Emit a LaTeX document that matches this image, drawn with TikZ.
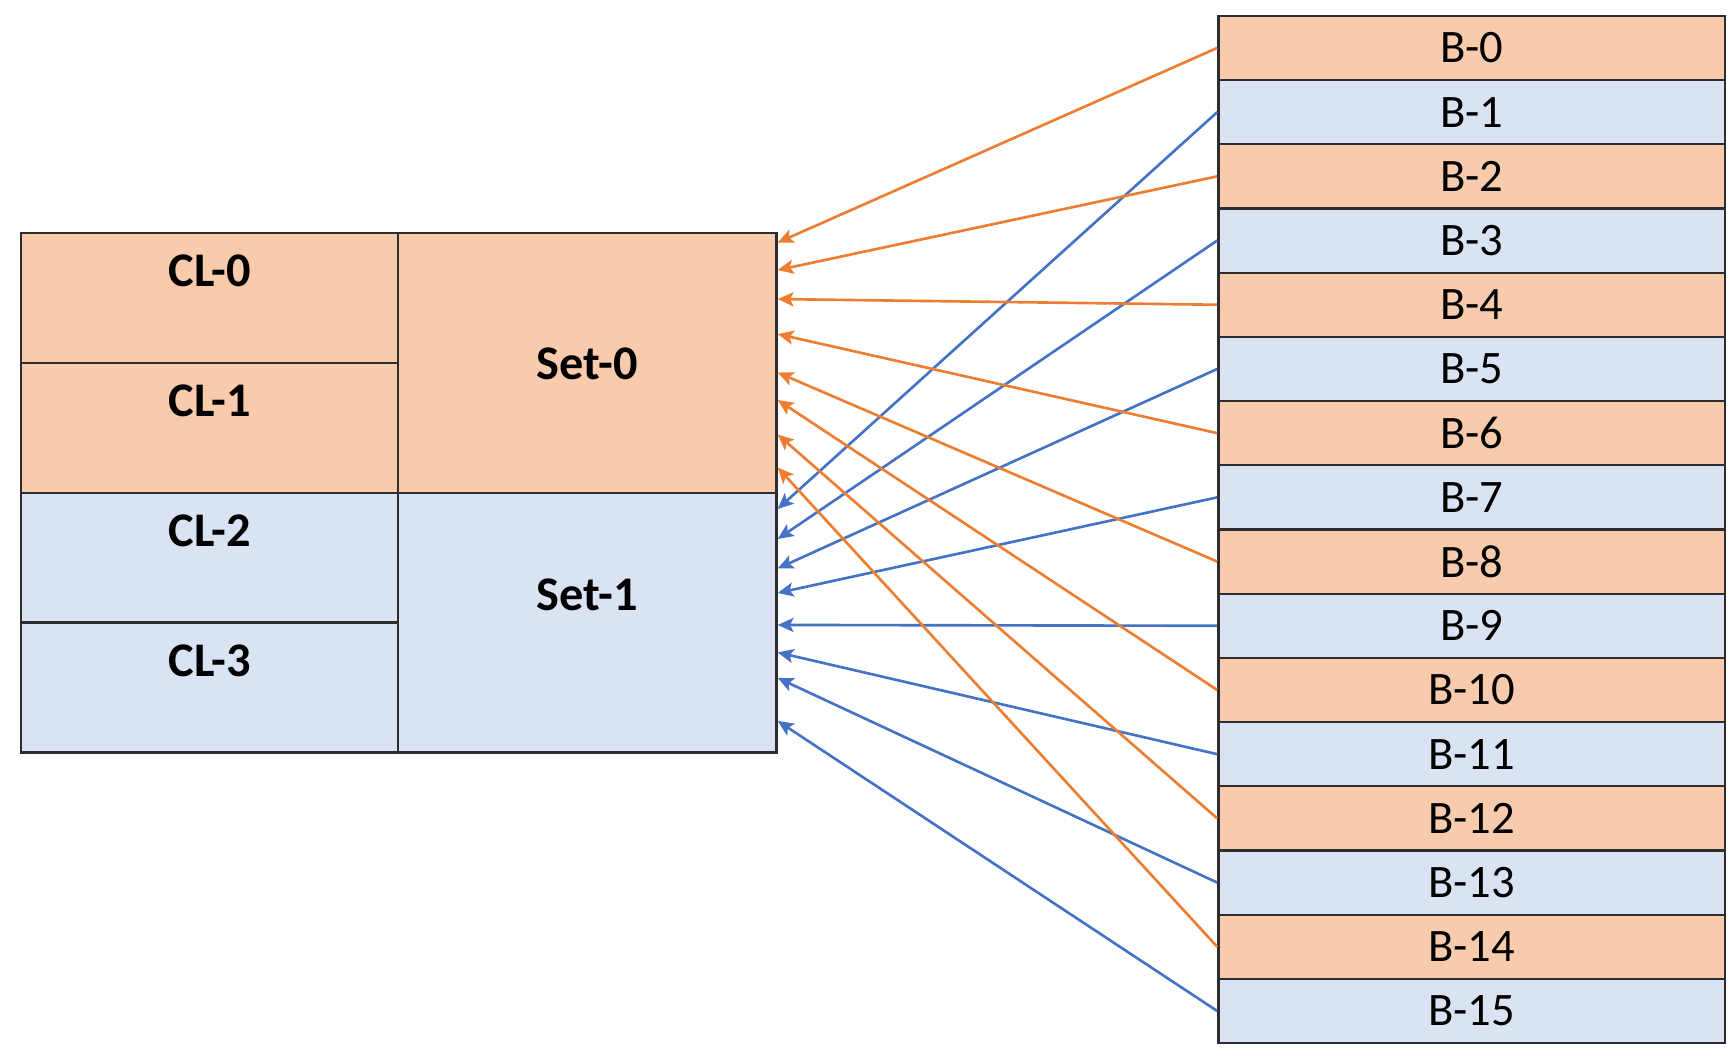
\documentclass[tikz,border=0pt]{standalone}
\usepackage{fontspec}
\setmainfont{Carlito}
\usepackage{tikz}
\usetikzlibrary{arrows.meta}
\definecolor{lightorange}{RGB}{248, 203, 173}
\definecolor{lightblue}{RGB}{218, 227, 243}
\definecolor{darkorange}{RGB}{237, 125, 49}
\definecolor{darkblue}{RGB}{68, 114, 196}
\definecolor{edge}{RGB}{45, 45, 45}

\begin{document}
\begin{tikzpicture}[scale=1.0,
  cell/.style={draw=edge, line width=1.3pt, inner sep=0pt},
  linelabel/.style={font=\fontsize{27.5}{32}\selectfont\bfseries},
  blocklabel/.style={font=\fontsize{26.5}{31}\selectfont},
  orangeline/.style={->, >={Stealth[length=9pt, width=8pt, inset=2pt]}, darkorange, line width=1.5pt},
  blueline/.style={->, >={Stealth[length=9pt, width=8pt, inset=2pt]}, darkblue, line width=1.5pt}]

  \draw[white] (0, 0) rectangle (34.58, 21.1);

  % cache lines
  \node[cell, fill=lightorange, minimum width=7.54cm, minimum height=2.6cm] (cl0) at (4.19, 15.15) {};
  \node[cell, fill=lightorange, minimum width=7.54cm, minimum height=2.6cm] (cl1) at (4.19, 12.55) {};
  \node[cell, fill=lightblue, minimum width=7.54cm, minimum height=2.6cm] (cl2) at (4.19, 9.95) {};
  \node[cell, fill=lightblue, minimum width=7.54cm, minimum height=2.6cm] (cl3) at (4.19, 7.35) {};

  \node[linelabel] (cl0text) at ([yshift=-0.78cm]cl0.north) {CL-0};
  \node[linelabel] (cl1text) at ([yshift=-0.78cm]cl1.north) {CL-1};
  \node[linelabel] (cl2text) at ([yshift=-0.78cm]cl2.north) {CL-2};
  \node[linelabel] (cl3text) at ([yshift=-0.78cm]cl3.north) {CL-3};

  % sets
  \node[cell, fill=lightorange, minimum width=7.57cm, minimum height=5.2cm] (set0) at (11.745, 13.85) {};
  \node[cell, fill=lightblue, minimum width=7.57cm, minimum height=5.2cm] (set1) at (11.745, 8.65) {};

  \node[linelabel] (set0text) at (11.745, 13.82) {Set-0};
  \node[linelabel] (set1text) at (11.745, 9.21) {Set-1};

  % main memory blocks
  \foreach \k in {0, ..., 15} {
    \pgfmathsetmacro{\yb}{20.79 - (\k + 0.5) * 1.2846}
    \ifodd\k\relax \def\bfill{lightblue}\else \def\bfill{lightorange}\fi
    \node[cell, fill=\bfill, minimum width=10.14cm, minimum height=1.2846cm, blocklabel] (b\k) at (29.44, \yb) {B-\k};
  }

  \foreach \t [count=\i from 0] in {0.22, 0.77, 1.35, 2.05, 2.82, 3.37, 4.06, 4.72}
    \coordinate (s0tip\i) at ([yshift=-\t cm]set0.north east);
  \foreach \t [count=\i from 0] in {0.35, 0.95, 1.54, 2.03, 2.67, 3.22, 3.73, 4.59}
    \coordinate (s1tip\i) at ([yshift=-\t cm]set1.north east);

  \foreach \i in {0, ..., 7} {
    \pgfmathtruncatemacro{\ke}{2 * \i}
    \pgfmathtruncatemacro{\ko}{2 * \i + 1}
    \draw[orangeline] (b\ke.west) -- (s0tip\i);
    \draw[blueline] (b\ko.west) -- (s1tip\i);
  }

\end{tikzpicture}
\end{document}
